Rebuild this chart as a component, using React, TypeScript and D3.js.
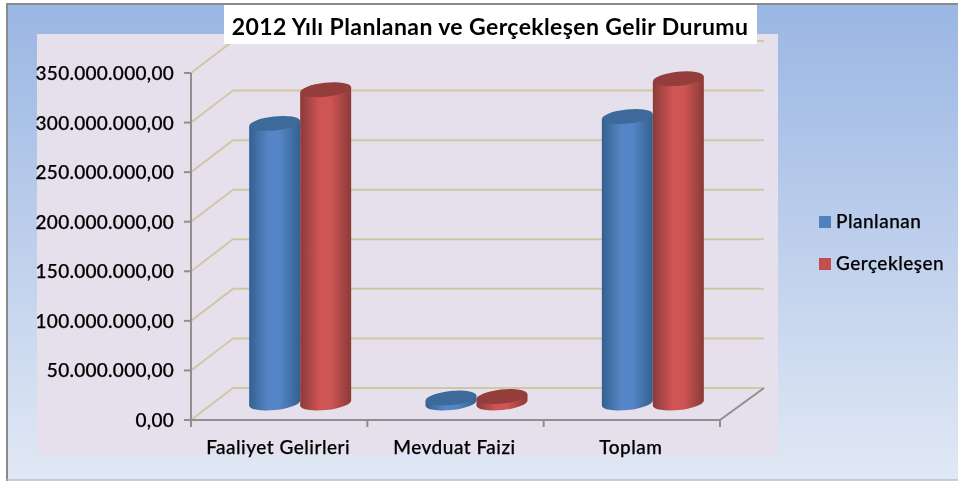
import React from "react";
import * as d3 from "d3";

const categories = ["Faaliyet Gelirleri", "Mevduat Faizi", "Toplam"];
const planlanan = [282000000, 5000000, 289000000];
const gerceklesen = [316000000, 6500000, 327000000];
const tickValues = [0, 50000000, 100000000, 150000000, 200000000, 250000000, 300000000, 350000000];
const tickLabels = ["0,00", "50.000.000,00", "100.000.000,00", "150.000.000,00", "200.000.000,00", "250.000.000,00", "300.000.000,00", "350.000.000,00"];
const seriesNames = ["Planlanan", "Gerçekleşen"];
const titleText = "2012 Yılı Planlanan ve Gerçekleşen Gelir Durumu";

const font = "Lato, 'Noto Sans', sans-serif";
const y = d3.scaleLinear().domain([0, 350000000]).range([420, 73]);
const x0 = d3.scaleBand().domain(categories).range([191, 720]);
const x1 = d3.scaleBand().domain(seriesNames).range([0, 102]);
const DX = 42, DY = -32;
const barLeft = (cat: string, s: string) => x0(cat)! + (x0.bandwidth() - 102) / 2 + DX * 0.5 + x1(s)!;
const baseShift = 17;

const palette = [
  { light: "#5585c6", dark: "#33618f", top: "#3d6a9b", swatch: "#4f81bd" },
  { light: "#cf5454", dark: "#8a3b38", top: "#943c3a", swatch: "#c0504d" },
];

export default function App() {
  const series = [planlanan, gerceklesen];
  const rx = x1.bandwidth() / 2;
  const ry = 7;
  return (
    <svg width={958} height={481} style={{ position: "absolute", left: 0, top: 0 }}>
      <defs>
        <linearGradient id="bg" x1="0" y1="0" x2="0" y2="1">
          <stop offset="0" stopColor="#9ab6e3" />
          <stop offset="1" stopColor="#e1e8f5" />
        </linearGradient>
        {palette.map((p, i) => (
          <linearGradient key={i} id={`cyl${i}`} x1="0" y1="0" x2="1" y2="0">
            <stop offset="0" stopColor={p.dark} />
            <stop offset="0.38" stopColor={p.light} />
            <stop offset="0.6" stopColor={p.light} />
            <stop offset="1" stopColor={p.dark} />
          </linearGradient>
        ))}
        <filter id="soft" x="-5%" y="-5%" width="110%" height="110%">
          <feGaussianBlur stdDeviation="0.35" />
        </filter>
      </defs>
      <rect width={958} height={481} fill="#ffffff" />
      <rect x={7} y={4} width={951} height={476} fill="url(#bg)" />
      <path d="M7,481 V4 H958" fill="none" stroke="#8a8a8a" strokeWidth={2} />
      <path d="M7,480 H958" fill="none" stroke="#b6bfcb" strokeWidth={1.5} />
      <rect x={37} y={34} width={741} height={420} fill="#e6e0ec" />

      <g filter="url(#soft)">
        {tickValues.map((t) => (
          <path key={t} d={`M${191},${y(t)} L${191 + DX},${y(t) + DY} H764`} fill="none" stroke="#cfc8a4" strokeWidth={2} />
        ))}
        <path d={`M720,${y(0)} L764,${y(0) + DY}`} fill="none" stroke="#8f8f8f" strokeWidth={2} />
        <path d={`M191,${y(350000000)} V${y(0)} H720`} fill="none" stroke="#8f8f8f" strokeWidth={2} />
        {tickValues.map((t) => (
          <line key={t} x1={184} x2={191} y1={y(t)} y2={y(t)} stroke="#8f8f8f" strokeWidth={2} />
        ))}
        {[191, 191 + x0.bandwidth(), 191 + 2 * x0.bandwidth(), 720].map((v) => (
          <line key={v} x1={v} x2={v} y1={y(0)} y2={427} stroke="#8f8f8f" strokeWidth={2} />
        ))}

        {categories.map((c, ci) =>
          seriesNames.map((s, si) => {
            const left = barLeft(c, s);
            const w = x1.bandwidth();
            const cx = left + w / 2;
            const yTop = y(series[si][ci]) - baseShift;
            const yBase = y(0) - baseShift;
            const tilt = -6;
            const dyTilt = rx * Math.sin((tilt * Math.PI) / 180);
            return (
              <g key={c + s}>
                <path
                  d={`M${left},${yTop - dyTilt} V${yBase - dyTilt} A${rx},${ry} ${tilt} 0 0 ${left + w},${yBase + dyTilt} V${yTop + dyTilt} Z`}
                  fill={`url(#cyl${si})`}
                />
                <ellipse cx={cx} cy={yTop} rx={rx} ry={ry} transform={`rotate(${tilt} ${cx} ${yTop})`} fill={palette[si].top} />
              </g>
            );
          })
        )}

        <g fontFamily={font} fontSize={19} fontWeight={500} fill="#000000" stroke="#000000" strokeWidth={0.25}>
          {tickValues.map((t, i) => (
            <text key={t} x={174} y={y(t) + 7} textAnchor="end" letterSpacing={0.28}>{tickLabels[i]}</text>
          ))}
          {categories.map((c) => (
            <text key={c} x={x0(c)! + x0.bandwidth() / 2 - 1} y={454} textAnchor="middle" letterSpacing={0.5}>{c}</text>
          ))}
          {seriesNames.map((s, i) => (
            <g key={s}>
              <rect x={819} y={216 + i * 42} width={12} height={12} fill={palette[i].swatch} stroke="none" />
              <text x={836} y={228 + i * 42} letterSpacing={0.5}>{s}</text>
            </g>
          ))}
        </g>
      </g>

      <rect x={224} y={5} width={533} height={39} fill="#ffffff" />
      <text x={490} y={35} textAnchor="middle" fontFamily={font} fontSize={23} fontWeight={700} letterSpacing={0.4} fill="#000000" filter="url(#soft)">{titleText}</text>
    </svg>
  );
}
